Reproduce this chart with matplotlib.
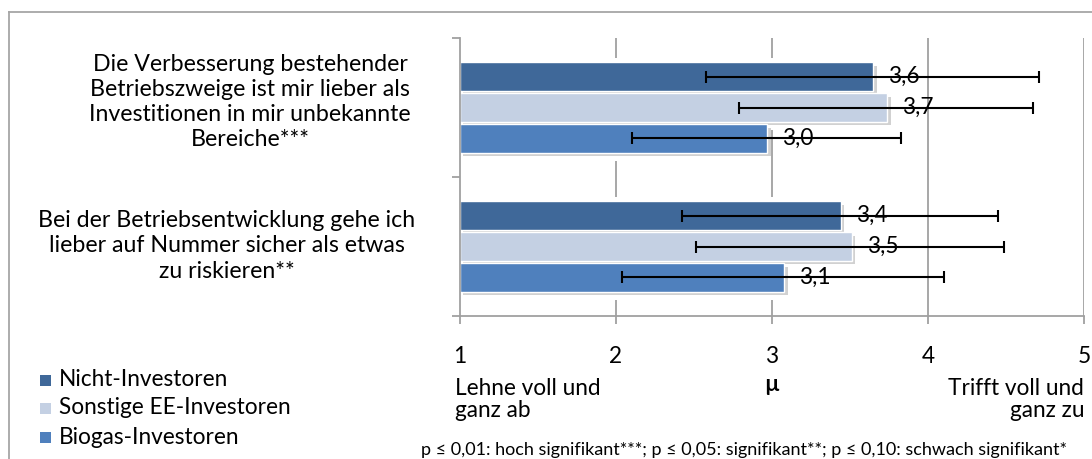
import matplotlib
matplotlib.use("Agg")
import matplotlib.pyplot as plt
import matplotlib.patheffects as pe
from matplotlib.patches import Rectangle
from matplotlib.lines import Line2D
import numpy as np

plt.rcParams['font.family'] = ['Lato', 'DejaVu Sans']

# ---- data ----
categories = [
    "Die Verbesserung bestehender\nBetriebszweige ist mir lieber als\nInvestitionen in mir unbekannte\nBereiche***",
    "Bei der Betriebsentwicklung gehe ich\nlieber auf Nummer sicher als etwas\nzu riskieren**",
]
series = ["Nicht-Investoren", "Sonstige EE-Investoren", "Biogas-Investoren"]
means = {
    "Nicht-Investoren": [3.65, 3.44],
    "Sonstige EE-Investoren": [3.74, 3.51],
    "Biogas-Investoren": [2.97, 3.08],
}
err_low = {
    "Nicht-Investoren": [2.58, 2.42],
    "Sonstige EE-Investoren": [2.79, 2.51],
    "Biogas-Investoren": [2.10, 2.04],
}
err_high = {
    "Nicht-Investoren": [4.71, 4.45],
    "Sonstige EE-Investoren": [4.67, 4.49],
    "Biogas-Investoren": [3.83, 4.10],
}
value_labels = {
    "Nicht-Investoren": ["3,6", "3,4"],
    "Sonstige EE-Investoren": ["3,7", "3,5"],
    "Biogas-Investoren": ["3,0", "3,1"],
}
xticks = [1, 2, 3, 4, 5]
axis_left_label = ["Lehne voll und", "ganz ab"]
axis_mid_label = "\u00b5"
axis_right_label = ["Trifft voll und", "ganz zu"]
colors = {
    "Nicht-Investoren": "#3F6899",
    "Sonstige EE-Investoren": "#C4D0E3",
    "Biogas-Investoren": "#4F80BD",
}
footnote = "p \u2264 0,01: hoch signifikant***; p \u2264 0,05: signifikant**; p \u2264 0,10: schwach signifikant*"

W, H = 1092, 459
FS = 16.3
fig = plt.figure(figsize=(W / 100, H / 100), dpi=100)

def fx(px):
    return px / W

def fy(py):
    return 1 - py / H

# outer frame
fig.add_artist(Line2D([fx(9), fx(9)], [fy(12), -0.1], color="#A6A6A6", lw=1.3, transform=fig.transFigure))
fig.add_artist(Line2D([fx(9), 1.1], [fy(12), fy(12)], color="#A6A6A6", lw=1.3, transform=fig.transFigure))

AX_TOP, AX_BOT = 38, 316
ax = fig.add_axes([fx(460), fy(AX_BOT), fx(1084) - fx(460), fy(AX_TOP) - fy(AX_BOT)])
ax.set_xlim(1, 5)
ax.set_ylim(1.5, -0.5)

grid_c = "#A0A0A0"
for x in xticks[1:]:
    ax.axvline(x, color=grid_c, lw=1.3, zorder=0)

bar_h = 0.205
offs = [-0.223, 0.0, 0.223]
y = np.arange(len(categories))
shadow = [pe.SimplePatchShadow(offset=(2.5, -2.5), shadow_rgbFace="#9A9A9A", alpha=0.45), pe.Normal()]
for s, off in zip(series, offs):
    m = np.array(means[s])
    # white halo behind each bar (hides gridlines close to the bars)
    ax.barh(y + off + 0.012, m - 1 + 0.01, left=1, height=bar_h + 0.09, color="white",
            edgecolor="none", zorder=1)
for s, off in zip(series, offs):
    m = np.array(means[s])
    bars = ax.barh(y + off, m - 1, left=1, height=bar_h, color=colors[s],
                   edgecolor="white", linewidth=1.0, zorder=2, label=s)
    for b in bars:
        b.set_path_effects(shadow)
    lo = m - np.array(err_low[s])
    hi = np.array(err_high[s]) - m
    ax.errorbar(m, y + off, xerr=[lo, hi], fmt="none", ecolor="black",
                elinewidth=1.5, capsize=4.5, capthick=1.5, zorder=4)
    for yi, mi, lab in zip(y + off, m, value_labels[s]):
        ax.annotate(lab, (mi, yi), xytext=(15, 0), textcoords="offset pixels",
                    ha="left", va="center", fontsize=FS, color="black", zorder=5)

for sp in ["top", "right"]:
    ax.spines[sp].set_visible(False)
for sp in ["left", "bottom"]:
    ax.spines[sp].set_color(grid_c)
    ax.spines[sp].set_linewidth(1.3)

ax.set_yticks([-0.5, 0.5, 1.5])
ax.set_yticklabels([])
ax.tick_params(axis="y", length=6, color=grid_c, width=1.3)
ax.set_xticks(xticks)
ax.set_xticklabels([])
ax.tick_params(axis="x", length=6, color=grid_c, width=1.3)

def ay(py):
    return (AX_BOT - py) / (AX_BOT - AX_TOP)

trans = ax.get_xaxis_transform()
for t in xticks:
    ax.text(t, ay(363), str(t), transform=trans, ha="center", va="baseline",
            fontsize=FS, clip_on=False)
for i, line in enumerate(axis_left_label):
    ax.text(0.97, ay(395 + 22 * i), line, transform=trans, ha="left", va="baseline",
            fontsize=FS, clip_on=False)
for i, line in enumerate(axis_right_label):
    ax.text(5, ay(395 + 22 * i), line, transform=trans, ha="right", va="baseline",
            fontsize=FS, clip_on=False)
ax.text(3, ay(391), axis_mid_label, transform=trans, ha="center", va="baseline",
        fontsize=FS, fontweight="bold", clip_on=False)

# category labels
cat_x = [250, 227]
cat_y = [102, 246]
for lab, cx, cy in zip(categories, cat_x, cat_y):
    fig.text(fx(cx), fy(cy), lab, ha="center", va="center", fontsize=FS + 0.4, linespacing=1.25)

# legend
leg_y = [380, 408, 437]
for s, ly in zip(series, leg_y):
    fig.add_artist(Rectangle((fx(40), fy(ly + 5.5)), fx(11), 11 / H, transform=fig.transFigure,
                             facecolor=colors[s], edgecolor="none"))
    fig.text(fx(59), fy(ly), s, ha="left", va="center", fontsize=FS)

fig.text(fx(421), fy(450), footnote, ha="left", va="center", fontsize=13.0)

fig.savefig("out.png", dpi=100)
